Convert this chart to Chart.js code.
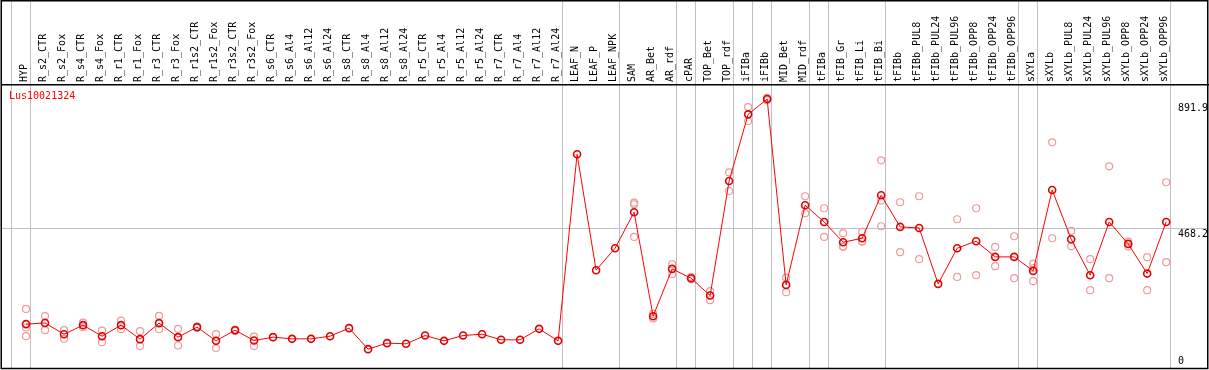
<!DOCTYPE html>
<html>
<head>
<meta charset="utf-8">
<script src="https://cdn.jsdelivr.net/npm/chart.js@4/dist/chart.umd.min.js"></script>
<style>
html,body{margin:0;padding:0;background:#fff;}
#wrap{width:1209px;height:370px;position:relative;}
</style>
</head>
<body>
<div id="wrap"><canvas id="c" width="1209" height="370"></canvas></div>
<script>
const categories = ["HYP","R_s2_CTR","R_s2_Fox","R_s4_CTR","R_s4_Fox","R_r1_CTR","R_r1_Fox","R_r3_CTR","R_r3_Fox","R_r1s2_CTR","R_r1s2_Fox","R_r3s2_CTR","R_r3s2_Fox","R_s6_CTR","R_s6_Al4","R_s6_Al12","R_s6_Al24","R_s8_CTR","R_s8_Al4","R_s8_Al12","R_s8_Al24","R_r5_CTR","R_r5_Al4","R_r5_Al12","R_r5_Al24","R_r7_CTR","R_r7_Al4","R_r7_Al12","R_r7_Al24","LEAF_N","LEAF_P","LEAF_NPK","SAM","AR_Bet","AR_rdf","cPAR","TOP_Bet","TOP_rdf","iFIBa","iFIBb","MID_Bet","MID_rdf","tFIBa","tFIB_Gr","tFIB_Li","tFIB_Bi","tFIBb","tFIBb_PUL8","tFIBb_PUL24","tFIBb_PUL96","tFIBb_OPP8","tFIBb_OPP24","tFIBb_OPP96","sXYLa","sXYLb","sXYLb_PUL8","sXYLb_PUL24","sXYLb_PUL96","sXYLb_OPP8","sXYLb_OPP24","sXYLb_OPP96"];

const seriesName = "Lus10021324";

const meanValues = [147,151,113,143.5,106.6,143.5,96.6,150.2,103.3,136.9,91,126.7,92,103.3,97.7,97.7,106.6,133.5,63.2,83.3,81,108.8,91,108.8,113.3,94.4,94.4,131.2,91,715.9,327.6,401.3,521.7,173.6,332,300.8,242.7,626.5,849.7,901,278.4,545.2,489.3,421.3,434.7,578.6,472.6,469.2,281.8,401.3,424.7,372.2,372.2,325.3,596.4,431.4,310.9,489.3,415.7,316.3,489.3];

const rep1 = [198,173.6,126.7,152.3,125.5,159,123.4,174.7,131.2,139,113.3,129,105.4,null,null,null,null,null,null,null,null,null,null,null,null,null,null,null,null,null,null,null,553.9,165.8,347.6,305,257.4,655.5,874.2,905,302.9,575.3,535.1,451.5,455.8,695.8,555.2,575.3,null,498.3,535.1,405.6,441.4,349.7,756,459.2,364.5,675.7,423.4,371.2,622.2];
const rep2 = [135.6,126.7,97.7,136.9,86.6,130,73.3,130,75.4,135,66.6,124,73.3,null,null,null,null,null,null,null,null,null,null,null,null,null,null,null,null,null,null,null,548.5,181,314,297,227.2,593,827.3,897,254,518.4,439.1,406.6,423.4,560.6,387.9,364.5,null,305.2,310.9,341,300.8,290.8,434.7,408,260.7,300.8,406.6,260.7,354.4];
const rep3 = [106.6,null,null,null,null,null,null,null,null,null,null,null,null,null,null,null,null,null,null,null,null,null,null,null,null,null,null,null,null,null,null,null,439.1,null,null,null,null,null,null,null,null,null,null,406,424,474.9,null,null,null,null,null,null,null,335,null,null,null,null,null,null,null];

// group separators: drawn just after these category indices
const separatorAfter = [-1,0,28,31,34,35,37,38,39,41,42,45,52,53,60];
const yTickValues = [0, 468.2, 891.9];
const gridValue = 468.2;

const toPts = arr => arr.map((v,i) => v === null ? null : {x:i, y:v}).filter(p => p);

const FONT = "DejaVu Sans Mono";
const X_MIN = -1.316, X_MAX = 62.2;

const framePlugin = {
  id: 'frame',
  afterDraw(chart) {
    const ctx = chart.ctx, a = chart.chartArea;
    const ys = chart.scales.y;
    ctx.save();
    ctx.font = "10px '" + FONT + "'";
    ctx.fillStyle = '#000';
    ctx.textAlign = 'left';
    yTickValues.forEach(v => {
      const py = ys.getPixelForValue(v);
      if (v === 0) { ctx.textBaseline = 'bottom'; ctx.fillText(String(v), 1178, py - 2); }
      else { ctx.textBaseline = 'top'; ctx.fillText(String(v), 1178, py + 1.5); }
    });
    ctx.fillStyle = '#ff0000';
    ctx.textBaseline = 'top';
    ctx.fillText(seriesName, a.left + 8, a.top + 6);
    ctx.strokeStyle = '#000';
    ctx.lineWidth = 1.5;
    ctx.strokeRect(1.25, 0.75, 1206.5, 367.75);
    ctx.beginPath();
    ctx.moveTo(1, a.top - 0.25); ctx.lineTo(1209, a.top - 0.25);
    ctx.stroke();
    ctx.restore();
  }
};

const noPad = s => { s.paddingLeft = 0; s.paddingRight = 0; s.paddingTop = 0; s.paddingBottom = 0; };

new Chart(document.getElementById('c'), {
  type: 'line',
  data: {
    datasets: [
      { label: seriesName, data: toPts(meanValues), borderColor: '#ff0000', borderWidth: 1,
        pointRadius: 3.5, pointBorderWidth: 1.6, pointBorderColor: '#e00000', pointBackgroundColor: 'rgba(0,0,0,0)', tension: 0, fill: false, clip: false },
      { label: 'rep1', data: toPts(rep1), showLine: false, pointRadius: 3.5, pointBorderWidth: 1.2, pointBorderColor: '#f09a9a', pointBackgroundColor: 'rgba(0,0,0,0)', clip: false },
      { label: 'rep2', data: toPts(rep2), showLine: false, pointRadius: 3.5, pointBorderWidth: 1.2, pointBorderColor: '#f09a9a', pointBackgroundColor: 'rgba(0,0,0,0)', clip: false },
      { label: 'rep3', data: toPts(rep3), showLine: false, pointRadius: 3.5, pointBorderWidth: 1.2, pointBorderColor: '#f09a9a', pointBackgroundColor: 'rgba(0,0,0,0)', clip: false }
    ]
  },
  options: {
    responsive: false,
    animation: false,
    devicePixelRatio: 1,
    layout: { autoPadding: false, padding: { left: 1, right: 1, top: 0, bottom: 2 } },
    plugins: { legend: { display: false }, tooltip: { enabled: false } },
    scales: {
      x: {
        type: 'linear', position: 'top', weight: 1, min: X_MIN, max: X_MAX,
        afterBuildTicks: s => { s.ticks = categories.map((c,i) => ({ value: i })); },
        afterFit: s => { s.height = 85; noPad(s); },
        ticks: { autoSkip: false, maxRotation: 90, minRotation: 90, padding: 3, labelOffset: 10.5,
          color: '#000', font: { family: FONT, size: 10 },
          callback: v => categories[v] !== undefined ? categories[v] : '' },
        grid: { display: false, drawTicks: false },
        border: { display: false }
      },
      xs: {
        type: 'linear', position: 'top', weight: 0, min: X_MIN, max: X_MAX,
        afterBuildTicks: s => { s.ticks = separatorAfter.map(i => ({ value: i + 0.25 })); },
        afterFit: s => { s.height = 0; noPad(s); },
        ticks: { display: false },
        grid: { display: true, color: '#c0c0c0', lineWidth: 1, drawTicks: true, tickLength: 85 },
        border: { display: false }
      },
      y: {
        type: 'linear', position: 'right', min: 0, max: 948,
        afterBuildTicks: s => { s.ticks = yTickValues.map(v => ({ value: v })); },
        afterFit: s => { s.width = 0; noPad(s); },
        ticks: { display: false },
        grid: { drawTicks: false, color: c => (c.tick && c.tick.value === gridValue) ? '#c0c0c0' : 'rgba(0,0,0,0)' },
        border: { display: false }
      }
    }
  },
  plugins: [framePlugin]
});
</script>
</body>
</html>
